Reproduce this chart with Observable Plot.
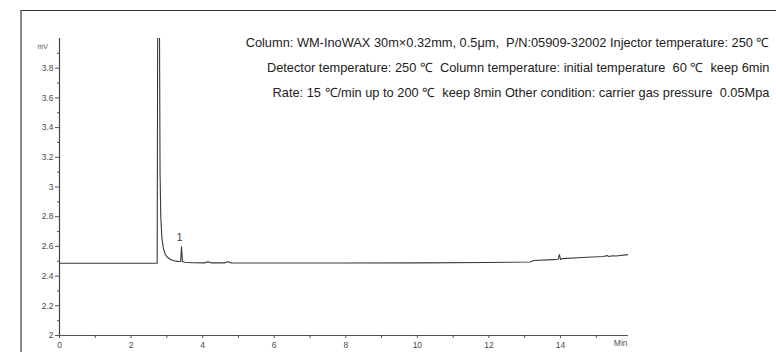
<!DOCTYPE html>
<html>
<head>
<meta charset="utf-8">
<script src="https://cdn.jsdelivr.net/npm/d3@7"></script>
<script src="https://cdn.jsdelivr.net/npm/@observablehq/plot@0.6"></script>
<style>
  html, body { margin: 0; padding: 0; background: #fff; }
  #wrap { position: relative; width: 776px; height: 352px; overflow: hidden; }
  #border { position: absolute; left: 20px; top: 10px; right: -5px; bottom: -5px;
            border-top: 1.5px solid #333; border-left: 2px solid #8a8a8a; pointer-events: none; }
</style>
</head>
<body>
<div id="wrap"><div id="border"></div></div>
<script>
// Retention time (min)
const times = [0, 2.73, 2.745, 2.79, 2.81, 2.83, 2.86, 2.9, 2.95, 3.0, 3.1, 3.2, 3.3, 3.385, 3.41, 3.435,
  3.5, 3.7, 4.05, 4.15, 4.25, 4.6, 4.7, 4.8, 6, 8, 10, 12, 13.15, 13.25, 13.8, 13.93, 13.97, 14.0, 14.05,
  14.6, 15.2, 15.3, 15.35, 15.45, 15.55, 15.9];
// Detector signal (mV)
const signal = [2.487, 2.487, 4.3, 4.3, 3.1, 2.8, 2.66, 2.59, 2.55, 2.53, 2.512, 2.503, 2.499, 2.498, 2.597, 2.499,
  2.493, 2.49, 2.489, 2.496, 2.489, 2.489, 2.497, 2.489, 2.488, 2.488, 2.489, 2.492, 2.495, 2.505, 2.511, 2.513, 2.545, 2.512, 2.518,
  2.525, 2.532, 2.538, 2.532, 2.537, 2.535, 2.545];
// Peak labels
const peakTimes = [3.41];
const peakValues = [2.597];
const peakNames = ["1"];
// Axis ticks
const yMajor = [2, 2.2, 2.4, 2.6, 2.8, 3, 3.2, 3.4, 3.6, 3.8];
const yMinor = [2.1, 2.3, 2.5, 2.7, 2.9, 3.1, 3.3, 3.5, 3.7, 3.9];
const xMajor = [0, 2, 4, 6, 8, 10, 12, 14];
const xMinor = [1, 3, 5, 7, 9, 11, 13, 15];
// Conditions text
const notes = [
  "Column: WM-InoWAX 30m×0.32mm, 0.5μm,  P/N:05909-32002 Injector temperature: 250 ℃",
  "Detector temperature: 250 ℃  Column temperature: initial temperature  60 ℃  keep 6min",
  "Rate: 15 ℃/min up to 200 ℃  keep 8min Other condition: carrier gas pressure  0.05Mpa"
];

const data = times.map((t, i) => ({t, v: signal[i]}));
const peaks = peakTimes.map((t, i) => ({t, v: peakValues[i], name: peakNames[i]}));

const axisFont = "Liberation Sans, Arial, sans-serif";
const noteFont = "Liberation Sans Narrow, Arial Narrow, Liberation Sans, sans-serif";
const noteMarks = notes.map((s, i) => Plot.text([s], {
  frameAnchor: "top-right", textAnchor: "end",
  dx: 141, dy: i * 25 - 1,
  fill: "#222", fontSize: 12.8, fontFamily: noteFont
}));

const chart = Plot.plot({
  width: 776,
  height: 352,
  marginLeft: 59,
  marginRight: 148,
  marginTop: 38,
  marginBottom: 17,
  style: {fontFamily: axisFont, fontSize: "8.5px", color: "#555", background: "transparent", overflow: "visible"},
  x: {domain: [0, 15.9]},
  y: {domain: [2, 4.0]},
  marks: [
    Plot.ruleX([0], {y1: 2, y2: 4.0, stroke: "#444", strokeWidth: 1.2}),
    Plot.ruleY([2], {stroke: "#555", strokeWidth: 1}),
    Plot.axisY({ticks: yMajor, tickSize: 4, tickPadding: 2, label: null, tickFormat: d => String(d), stroke: "#555", fill: "#4a4a4a"}),
    Plot.axisY({ticks: yMinor, tickSize: 2, tickFormat: () => "", label: null, stroke: "#555"}),
    Plot.axisX({ticks: xMajor, tickSize: 3, tickPadding: 3, label: null, tickFormat: d => String(d), stroke: "#555", fill: "#4a4a4a"}),
    Plot.axisX({ticks: xMinor, tickSize: 3, tickFormat: () => "", label: null, stroke: "#555"}),
    Plot.text(["mV"], {frameAnchor: "top-left", dx: -22, dy: 6, fill: "#555", fontSize: 7}),
    Plot.text(["Min"], {frameAnchor: "bottom-right", dx: -1, dy: 10, fill: "#555", fontSize: 8.5}),
    Plot.line(data, {x: "t", y: "v", stroke: "#3a3a3a", strokeWidth: 1.1, clip: true}),
    Plot.text(peaks, {x: "t", y: "v", text: "name", dy: -9, dx: -2, fill: "#444", fontSize: 11}),
    ...noteMarks
  ]
});
document.getElementById("wrap").prepend(chart);
</script>
</body>
</html>
